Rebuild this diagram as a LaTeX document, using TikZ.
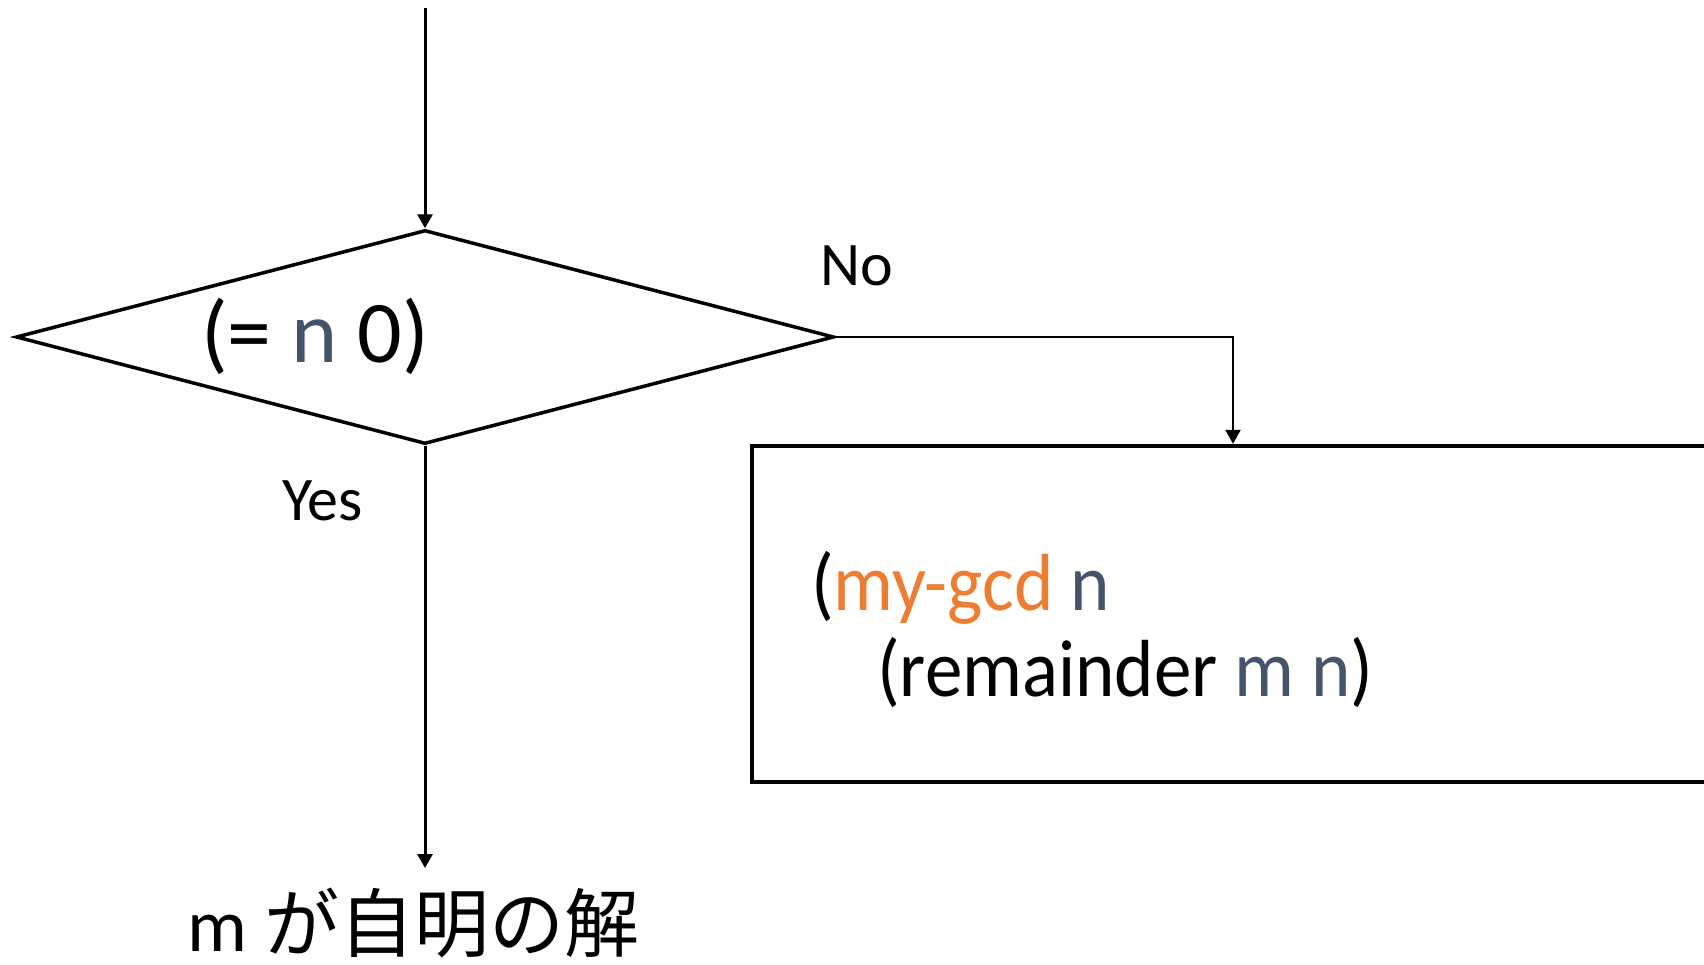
\documentclass[tikz,border=0pt]{standalone}
\usepackage{fontspec}
\setmainfont{Carlito}
\newfontfamily\cjk{Noto Sans CJK JP}
\usetikzlibrary{arrows.meta,shapes.geometric}
\definecolor{orng}{HTML}{ED7D31}
\definecolor{slate}{HTML}{44546A}
\tikzset{
  conn/.style={line width=3pt,-{Triangle[width=15pt,length=14pt]}},
  thinconn/.style={line width=2pt,-{Triangle[width=15pt,length=14pt]}},
  lbl/.style={inner sep=0pt,anchor=base west,font=\fontsize{62}{70}\selectfont},
  boxtext/.style={inner sep=0pt,anchor=base west,font=\fontsize{75}{85}\selectfont},
}
\begin{document}
\begin{tikzpicture}[x=1pt,y=-1pt]
\useasboundingbox (0,0) rectangle (1704,964);
\clip (0,0) rectangle (1704,964);
% decision diamond
\node[draw,shape=diamond,line width=3.5pt,minimum width=818pt,minimum height=214pt,inner sep=0pt] (dec) at (425,337) {};
\node[inner sep=0pt,anchor=base,font=\fontsize{88}{100}\selectfont] (cond) at (315,362) {(= \textcolor{slate}{n} 0)};
% process box
\node[draw,line width=4.5pt,outer sep=0pt,minimum width=968pt,minimum height=336pt,anchor=north west,inner sep=0pt] (box) at (752,446) {};
\node[boxtext] (l1) at (811,610) {\scalebox{1}[1.08]{(\textcolor{orng}{my-gcd} \textcolor{slate}{n}}};
\node[boxtext] (l2) at (877,696) {\scalebox{1}[1.08]{(remainder \textcolor{slate}{m n})}};
% labels
\node[lbl] (no) at (820,285) {No};
\node[lbl] (yes) at (282,520) {Yes};
\node[inner sep=0pt,anchor=base west,font=\fontsize{75}{80}\selectfont] (ans) at (187,951) {m {\cjk が自明の解}};
% connectors
\coordinate (start) at (425,8);
\coordinate (noturn) at (1233,337);
\coordinate (yesend) at (425,868);
\draw[conn] (start) -- (dec.north);
\draw[thinconn] (dec.east) -- (noturn) -- ([yshift=2.2pt]noturn |- box.north);
\draw[conn] (dec.south) -- (yesend);
\end{tikzpicture}
\end{document}
